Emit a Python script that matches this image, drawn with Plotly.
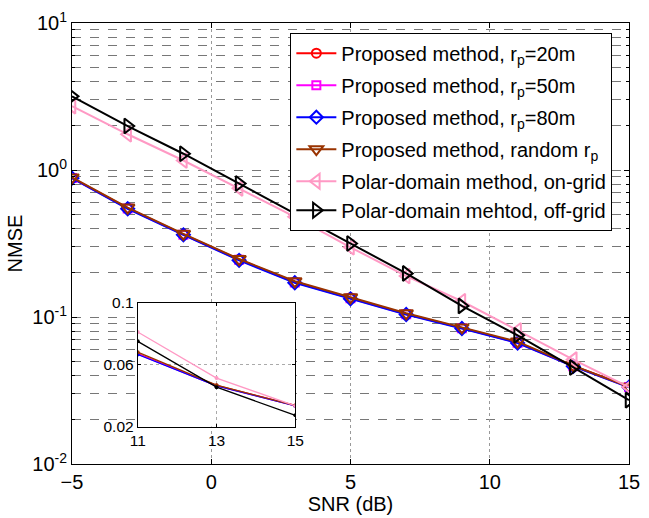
import plotly.graph_objects as go

snr = [-5, -3, -1, 1, 3, 5, 7, 9, 11, 13, 15]
nmse_20m = [0.885, 0.550, 0.365, 0.246, 0.173, 0.135, 0.105, 0.0842, 0.0670, 0.0465, 0.0336]
nmse_50m = [0.882, 0.548, 0.363, 0.245, 0.172, 0.134, 0.1045, 0.0840, 0.0668, 0.0463, 0.0334]
nmse_80m = [0.880, 0.545, 0.362, 0.243, 0.171, 0.133, 0.104, 0.0835, 0.0665, 0.0462, 0.0333]
nmse_rand = [0.890, 0.555, 0.368, 0.248, 0.175, 0.136, 0.106, 0.0850, 0.0680, 0.0467, 0.0335]
nmse_on = [2.72, 1.75, 1.16, 0.75, 0.48, 0.298, 0.190, 0.128, 0.0810, 0.0513, 0.0333]
nmse_off = [3.17, 1.99, 1.29, 0.81, 0.506, 0.316, 0.198, 0.119, 0.0750, 0.0454, 0.0272]

names = ["Proposed method, r<sub>p</sub>=20m",
         "Proposed method, r<sub>p</sub>=50m",
         "Proposed method, r<sub>p</sub>=80m",
         "Proposed method, random r<sub>p</sub>",
         "Polar-domain method, on-grid",
         "Polar-domain mehtod, off-grid"]
groups = ["g1", "g2", "g3", "g4", "g5", "g5"]
series = [nmse_20m, nmse_50m, nmse_80m, nmse_rand, nmse_on, nmse_off]
colors = ["#ff0000", "#ff00ff", "#0000ff", "#993300", "#ff99c4", "#000000"]
symbols = ["circle-open", "square-open", "diamond-open", "triangle-down-open",
           "triangle-left-open", "triangle-right-open"]
msizes = [9, 8, 10, 12, 13, 13]

decade_vals = [0.01, 0.1, 1, 10]
decade_text = ["10<sup>-2</sup>", "10<sup>-1</sup>", "10<sup>0</sup>", "10<sup>1</sup>"]
minor_vals = [k * d for d in [0.01, 0.1, 1] for k in range(2, 10)]

inset_idx = [8, 9, 10]
inset_ticks = [11, 13, 15]
inset_yticks = [0.02, 0.06, 0.1]

FONT = "Liberation Sans, Arial, sans-serif"

fig = go.Figure()
for nm, g, ys, c, s, ms in zip(names, groups, series, colors, symbols, msizes):
    fig.add_trace(go.Scatter(
        x=snr, y=ys, name=nm, legendgroup=g, mode="lines+markers",
        line=dict(color=c, width=2),
        marker=dict(symbol=s, size=ms, color=c, line=dict(color=c, width=2)),
        xaxis="x", yaxis="y"))
for ys, c in zip(series, colors):
    fig.add_trace(go.Scatter(
        x=[snr[i] for i in inset_idx], y=[ys[i] for i in inset_idx],
        mode="lines+markers", showlegend=False,
        line=dict(color=c, width=1.3),
        marker=dict(symbol="circle", size=4, color=c),
        xaxis="x2", yaxis="y2"))

fig.update_layout(
    width=649, height=518,
    margin=dict(l=72, r=9, t=19, b=51),
    paper_bgcolor="white", plot_bgcolor="white",
    font=dict(family=FONT, size=20, color="black"),
    xaxis=dict(range=[-5, 15], tickvals=[-5, 0, 5, 10, 15],
               showline=True, linecolor="black", linewidth=1, mirror="ticks",
               ticks="inside", ticklen=5, tickcolor="black",
               showgrid=True, gridcolor="#999999", griddash="dot", gridwidth=1,
               zeroline=False,
               title=dict(text="SNR (dB)", font=dict(size=20), standoff=2)),
    yaxis=dict(type="log", range=[-2, 1], tickvals=decade_vals, ticktext=decade_text,
               showline=True, linecolor="black", linewidth=1, mirror="ticks",
               ticks="inside", ticklen=5, tickcolor="black",
               showgrid=True, gridcolor="#777777", griddash="dash", gridwidth=1,
               minor=dict(tickmode="array", tickvals=minor_vals, ticks="inside",
                          ticklen=3, tickcolor="black", showgrid=True,
                          gridcolor="#777777", griddash="dash", gridwidth=1),
               zeroline=False,
               title=dict(text="NMSE", font=dict(size=20), standoff=4)),
    xaxis2=dict(domain=[0.118, 0.401], anchor="y2", range=[11, 15],
                tickvals=inset_ticks, tickfont=dict(size=15.5),
                showline=True, linecolor="black", linewidth=1, mirror="ticks",
                ticks="inside", ticklen=3, tickcolor="black",
                showgrid=True, gridcolor="#aaaaaa", griddash="dot", zeroline=False),
    yaxis2=dict(domain=[0.085, 0.366], anchor="x2", range=[0.02, 0.1],
                tickvals=inset_yticks, ticktext=["0.02", "0.06", "0.1"],
                tickfont=dict(size=15.5),
                showline=True, linecolor="black", linewidth=1, mirror="ticks",
                ticks="inside", ticklen=3, tickcolor="black",
                showgrid=True, gridcolor="#aaaaaa", griddash="dot", zeroline=False),
    legend=dict(x=0.392, y=0.978, xanchor="left", yanchor="top",
                bgcolor="white", bordercolor="black", borderwidth=1,
                font=dict(size=20, family=FONT), tracegroupgap=3,
                itemwidth=40, traceorder="grouped"),
    showlegend=True,
)

fig.write_html("out.html")
